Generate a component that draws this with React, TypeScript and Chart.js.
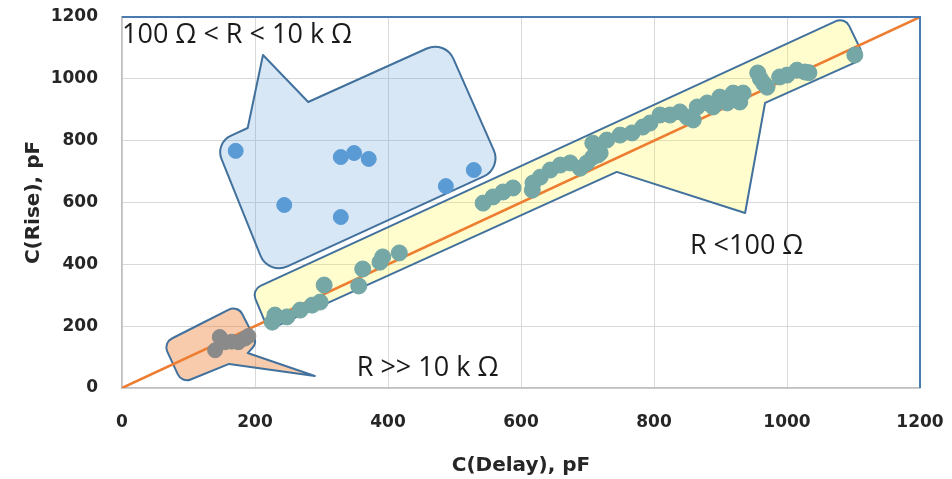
import React, { useEffect, useRef } from "react";
import { Chart, registerables } from "chart.js";

Chart.register(...registerables);

// ---- data (pF) ----
const tickValues = [0, 200, 400, 600, 800, 1000, 1200];
const xTitle = "C(Delay), pF";
const yTitle = "C(Rise), pF";

// 100 Ω < R < 10 kΩ (blue)
const midRX = [171, 244, 329, 349, 371, 329, 487, 529];
const midRY = [767, 592, 747, 760, 741, 553, 653, 705];

// R >> 10 kΩ (gray)
const highRX = [140, 147, 155, 165, 175, 185, 190];
const highRY = [122, 165, 148, 150, 148, 160, 168];

// R < 100 Ω (teal)
const lowRX = [
  226, 230, 248, 268, 286, 298, 304, 356, 362, 388, 392, 417,
  543, 558, 573, 588, 617, 618, 629, 644, 659, 674, 689, 699, 708, 719,
  708, 716, 729, 749, 767, 783, 794, 809, 824, 839, 850, 859, 865, 880, 889, 899, 910, 919, 929,
  934, 956, 960, 965, 970, 989, 1000, 1015, 1027, 1033, 1102,
];
const lowRY = [
  213, 236, 230, 252, 268, 278, 333, 330, 385, 407, 424, 437,
  598, 618, 634, 647, 640, 663, 682, 705, 721, 728, 711, 728, 747, 760,
  792, 754, 802, 818, 825, 844, 857, 883, 883, 893, 876, 867, 909, 922, 909, 941, 922, 954, 925,
  954, 1019, 1000, 985, 973, 1006, 1012, 1028, 1022, 1020, 1077,
];

// y = x reference line
const refLineX = [0, 1200];
const refLineY = [0, 1200];

// callout outlines in data units: [x, y, cornerRadiusPx]
const blueCallout = [
  [140, 792, 18], [189, 841, 0], [212, 1077, 0], [280, 925, 0],
  [486, 1125, 20], [571, 711, 20], [220, 365, 20],
];
const yellowCallout = [
  [195, 317, 10], [1087, 1200, 10], [1117, 1067, 10], [967, 922, 0],
  [937, 566, 0], [744, 699, 0], [220, 188, 10],
];
const orangeCallout = [
  [174, 268, 10], [203, 146, 10], [189, 113, 0], [290, 39, 0],
  [161, 78, 0], [90, 16, 10], [62, 146, 10],
];

const labelTexts = ["100 Ω < R < 10 k Ω", "R >> 10 k Ω", "R <100 Ω"];
const labelX = [0, 353, 854];
const labelY = [1142, 65, 459];

const zip = (xs: number[], ys: number[]) => xs.map((x, i) => ({ x, y: ys[i] }));

function drawShape(chart: any, pts: number[][], fill: string, stroke: string) {
  const { ctx, scales } = chart;
  const p = pts.map(([x, y, r]) => ({
    x: scales.x.getPixelForValue(x),
    y: scales.y.getPixelForValue(y),
    r,
  }));
  const n = p.length;
  ctx.save();
  ctx.beginPath();
  const sx = (p[n - 1].x + p[0].x) / 2;
  const sy = (p[n - 1].y + p[0].y) / 2;
  ctx.moveTo(sx, sy);
  for (let i = 0; i < n; i++) {
    const cur = p[i];
    const nxt = p[(i + 1) % n];
    if (cur.r > 0) ctx.arcTo(cur.x, cur.y, nxt.x, nxt.y, cur.r);
    else ctx.lineTo(cur.x, cur.y);
  }
  ctx.closePath();
  ctx.fillStyle = fill;
  ctx.fill();
  ctx.lineWidth = 2;
  ctx.lineJoin = "round";
  ctx.strokeStyle = stroke;
  ctx.stroke();
  ctx.restore();
}

const calloutPlugin = {
  id: "callouts",
  beforeDatasetsDraw(chart: any) {
    drawShape(chart, blueCallout, "rgba(91,155,213,0.24)", "#41719c");
    drawShape(chart, yellowCallout, "rgba(255,243,60,0.25)", "#41719c");
    drawShape(chart, orangeCallout, "rgba(237,125,49,0.4)", "#41719c");
  },
  afterDatasetsDraw(chart: any) {
    const { ctx, chartArea, scales } = chart;
    ctx.save();
    ctx.strokeStyle = "#4a7bb0";
    ctx.lineWidth = 2;
    ctx.beginPath();
    ctx.moveTo(chartArea.left, chartArea.top);
    ctx.lineTo(chartArea.right, chartArea.top);
    ctx.lineTo(chartArea.right, chartArea.bottom);
    ctx.stroke();
    ctx.fillStyle = "#1a1a1a";
    ctx.font = "27px 'Open Sans'";
    ctx.textBaseline = "middle";
    ctx.textAlign = "left";
    labelTexts.forEach((t, i) => {
      ctx.fillText(t, scales.x.getPixelForValue(labelX[i]), scales.y.getPixelForValue(labelY[i]));
    });
    ctx.restore();
  },
};

export default function App() {
  const ref = useRef<HTMLCanvasElement | null>(null);
  useEffect(() => {
    if (!ref.current) return;
    const tickFont = { family: "'DejaVu Sans'", size: 17, weight: "bold" as const };
    const titleFont = { family: "'DejaVu Sans'", size: 20, weight: "bold" as const };
    const chart = new Chart(ref.current, {
      type: "scatter",
      data: {
        datasets: [
          {
            label: "100 Ω < R < 10 k Ω",
            data: zip(midRX, midRY),
            backgroundColor: "#5b9bd5",
            borderColor: "#5b9bd5",
            pointRadius: 7.5,
            order: 1,
          },
          {
            label: "R < 100 Ω",
            data: zip(lowRX, lowRY),
            backgroundColor: "#74a7a5",
            borderColor: "#74a7a5",
            pointRadius: 8,
            order: 2,
          },
          {
            label: "R >> 10 k Ω",
            data: zip(highRX, highRY),
            backgroundColor: "#8a8a8a",
            borderColor: "#8a8a8a",
            pointRadius: 7.5,
            order: 3,
          },
          {
            label: "y = x",
            data: zip(refLineX, refLineY),
            showLine: true,
            borderColor: "#ed7d31",
            borderWidth: 2.5,
            pointRadius: 0,
            order: 10,
          } as any,
        ],
      },
      options: {
        responsive: false,
        animation: false,
        devicePixelRatio: 1,
        layout: { padding: { top: 17, right: 32, left: 0, bottom: 0 } },
        plugins: { legend: { display: false }, tooltip: { enabled: false } },
        scales: {
          x: {
            type: "linear",
            min: 0,
            max: 1200,
            afterBuildTicks: (s: any) => {
              s.ticks = tickValues.map((v) => ({ value: v }));
            },
            afterFit: (s: any) => {
              s.height = 91;
              s.paddingLeft = 0;
              s.paddingRight = 0;
            },
            grid: { color: "#d9d9d9", lineWidth: 1, drawTicks: false },
            border: { color: "#bfbfbf", width: 1.5 },
            ticks: {
              font: tickFont,
              color: "#262626",
              padding: 24,
              maxRotation: 0,
              callback: (v: any) => String(v),
            },
            title: { display: true, text: xTitle, font: titleFont, color: "#262626", padding: { top: 0, bottom: 1 } },
          },
          y: {
            type: "linear",
            min: 0,
            max: 1200,
            afterBuildTicks: (s: any) => {
              s.ticks = tickValues.map((v) => ({ value: v }));
            },
            afterFit: (s: any) => {
              s.width = 122;
              s.paddingTop = 0;
              s.paddingBottom = 0;
            },
            grid: { color: "#d9d9d9", lineWidth: 1, drawTicks: false },
            border: { color: "#bfbfbf", width: 1.5 },
            ticks: { font: tickFont, color: "#262626", padding: 24, callback: (v: any) => String(v) },
            title: { display: true, text: yTitle, font: titleFont, color: "#262626", padding: { top: 22, bottom: 0 } },
          },
        },
      },
      plugins: [calloutPlugin],
    });
    return () => chart.destroy();
  }, []);
  return (
    <div style={{ position: "fixed", left: 0, top: 0, width: 952, height: 479, background: "#fff" }}>
      <canvas ref={ref} width={952} height={479} style={{ display: "block", width: 952, height: 479 }} />
    </div>
  );
}
